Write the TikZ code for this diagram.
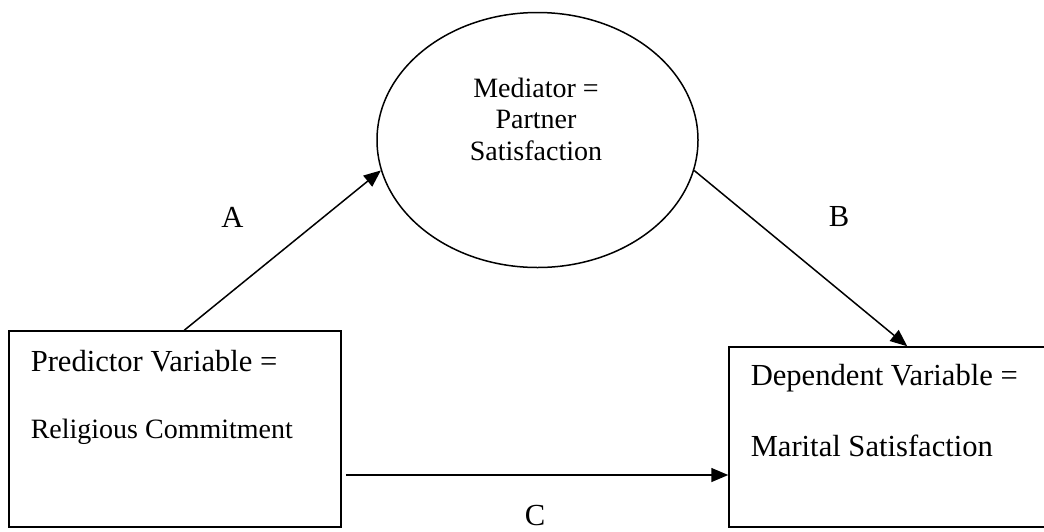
\documentclass[tikz,border=0pt]{standalone}
\usepackage{fontspec}
\setmainfont{Liberation Serif}
\usetikzlibrary{shapes.geometric,arrows.meta,positioning}

\newcommand{\bigtxt}{\fontsize{30.6}{36}\selectfont}
\newcommand{\smalltxt}{\fontsize{28}{31.5}\selectfont}

\begin{document}
\begin{tikzpicture}[x=1pt,y=-1pt,line width=1.5pt,
    varbox/.style={draw,rectangle,inner sep=0pt},
    medell/.style={draw,ellipse,inner sep=0pt,minimum width=321pt,minimum height=255pt},
    boxtxt/.style={anchor=base west,inner sep=0pt},
    pathlbl/.style={anchor=base,inner sep=0pt,font=\bigtxt},
    path/.style={-{Triangle[length=17pt,width=14pt]}}] %
    \useasboundingbox (0,0) rectangle (1044,531) ; %
    \node[medell] (med) at (537.5,140) {} ; %
    \node[varbox,minimum width=332pt,minimum height=196pt] (pred) at (175,429) {} ; %
    \node[varbox,minimum width=331pt,minimum height=180pt] (dep) at (894.5,437) {} ; %
    % texts
    \node[anchor=base,inner sep=0pt,align=center,font=\smalltxt] (medtxt) at (536,160) {Mediator =\\Partner\\Satisfaction} ; %
    \node[boxtxt,font=\bigtxt] (predtop) at (30,371) {Predictor Variable =} ; %
    \node[boxtxt,font=\smalltxt] (predbot) at (30,438) {Religious Commitment} ; %
    \node[boxtxt,font=\bigtxt] (deptop) at (750,385) {Dependent Variable =} ; %
    \node[boxtxt,font=\bigtxt] (depbot) at (750,456) {Marital Satisfaction} ; %
    \node[pathlbl] (lblA) at (232.5,227) {A} ; %
    \node[pathlbl] (lblB) at (839,226) {B} ; %
    \node[pathlbl] (lblC) at (535,525.5) {C} ; %
    % paths
    \draw[path] ([xshift=176pt]pred.north west) -- (med.191) ; %
    \draw[path] (med.349) -- ([xshift=179pt]dep.north west) ; %
    \draw[path] ([xshift=4pt,yshift=-46pt]pred.east) -- ([yshift=-38pt]dep.west) ; %
\end{tikzpicture}
\end{document}
